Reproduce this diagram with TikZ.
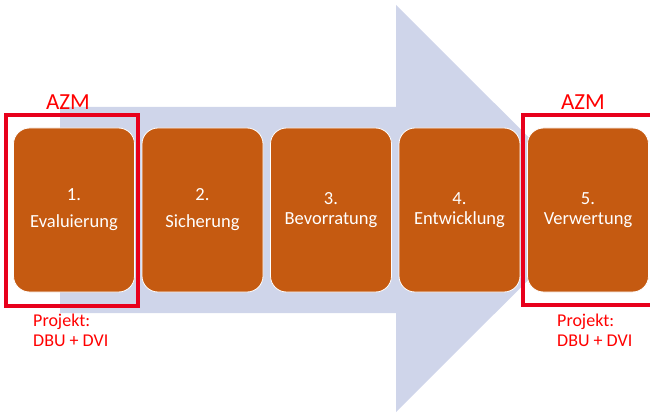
\documentclass[tikz,border=0pt]{standalone}
\usepackage{fontspec}
\setmainfont{Carlito}
\usepackage{xcolor}
\usepackage{tikz}
\usetikzlibrary{positioning}
\definecolor{stepfill}{HTML}{C55A11}
\definecolor{arrowfill}{HTML}{CFD5EA}
\definecolor{azmred}{HTML}{E8001C}
\definecolor{labred}{HTML}{FF0000}
\tikzset{
  phase/.style={rectangle, rounded corners=16pt, fill=stepfill, draw=white, line width=0.8pt,
    minimum width=121pt, minimum height=164pt, text=white, align=center,
    font=\fontsize{18.5}{20}\selectfont},
  widephase/.style={phase, font=\fontsize{18.5}{27}\selectfont},
  frame/.style={draw=azmred, line width=3.2pt},
  azm/.style={text=labred, font=\fontsize{23}{26}\selectfont},
  proj/.style={text=labred, align=left, anchor=north west, inner sep=0pt,
    font=\fontsize{18}{20}\selectfont},
}

\begin{document}
\begin{tikzpicture}[x=1pt,y=-1pt]
  \useasboundingbox (0,0) rectangle (650,414);

  % big background arrow
  \fill[arrowfill] (60,107) -- (396,107) -- (396,5) -- (600,208.5)
    -- (396,412) -- (396,313) -- (60,313) -- cycle;

  % the five phases
  \node[widephase] (eval) at (74,210) {1.\\Evaluierung};
  \node[widephase] (sich) at (202.5,210) {2.\\Sicherung};
  \node[phase] (bevo) at (331,210) {3.\\Bevorratung};
  \node[phase] (entw) at (459.5,210) {4.\\Entwicklung};
  \node[phase] (verw) at (588,210) {5.\\Verwertung};

  % AZM frames
  \draw[frame] (6,115) rectangle (138,306);
  \draw[frame] (523,115) rectangle (656,305);

  \node[azm] (azmA) at (68,102) {AZM};
  \node[azm] (azmB) at (583,102) {AZM};

  \node[proj] (projA) at (33,314) {Projekt:\\DBU + DVI};
  \node[proj] (projB) at (557,314) {Projekt:\\DBU + DVI};
\end{tikzpicture}
\end{document}
